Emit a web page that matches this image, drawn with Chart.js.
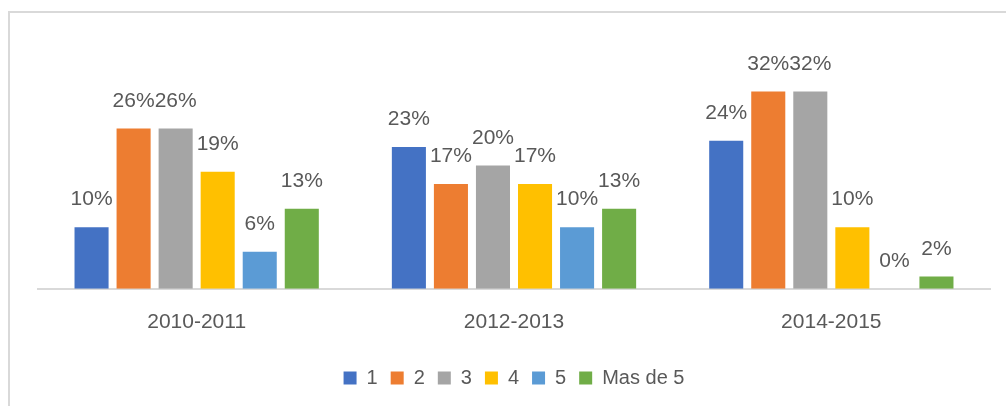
<!DOCTYPE html>
<html>
<head>
<meta charset="utf-8">
<script src="https://cdn.jsdelivr.net/npm/chart.js@4"></script>
<style>
  html, body { margin: 0; padding: 0; background: #fff; }
  #marco { position: absolute; left: 8px; top: 11px; width: 1010px; height: 410px; border: 2px solid #d9d9d9; box-sizing: border-box; }
  #wrap { position: absolute; left: 0; top: 0; width: 1006px; height: 406px; }
</style>
</head>
<body>
<div id="marco"></div>
<div id="wrap"><canvas id="chart" width="1006" height="406"></canvas></div>
<script>
const periodos = ['2010-2011', '2012-2013', '2014-2015'];
const series = ['1', '2', '3', '4', '5', 'Mas de 5'];
const valores1 = [10, 23, 24];
const valores2 = [26, 17, 32];
const valores3 = [26, 20, 32];
const valores4 = [19, 17, 10];
const valores5 = [6, 10, 0];
const valoresMas5 = [13, 13, 2];
const colores = ['#4472c4', '#ed7d31', '#a5a5a5', '#ffc000', '#5b9bd5', '#70ad47'];

const todos = [valores1, valores2, valores3, valores4, valores5, valoresMas5];
const textoGris = '#595959';

// etiquetas encima de cada barra
const etiquetas = {
    id: 'etiquetas',
    afterDatasetsDraw(chart) {
        const ctx = chart.ctx;
        ctx.save();
        ctx.font = '21px "Liberation Sans", Arial, sans-serif';
        ctx.fillStyle = textoGris;
        ctx.textAlign = 'center';
        ctx.textBaseline = 'bottom';
        chart.data.datasets.forEach((ds, i) => {
            chart.getDatasetMeta(i).data.forEach((bar, j) => {
                ctx.fillText(ds.data[j] + '%', bar.x, bar.y - 17);
            });
        });
        ctx.restore();
    }
};

new Chart(document.getElementById('chart').getContext('2d'), {
    type: 'bar',
    data: {
        labels: periodos,
        datasets: series.map((nombre, i) => ({
            label: nombre,
            data: todos[i],
            backgroundColor: colores[i],
            categoryPercentage: 0.795,
            barPercentage: 0.81
        }))
    },
    options: {
        responsive: false,
        animation: false,
        layout: { padding: { left: 38, right: 16, top: 73, bottom: 8 } },
        plugins: {
            tooltip: { enabled: false },
            legend: {
                position: 'bottom',
                labels: {
                    boxWidth: 13,
                    boxHeight: 13,
                    padding: 13,
                    color: textoGris,
                    font: { size: 20, family: '"Liberation Sans", Arial, sans-serif' }
                }
            }
        },
        scales: {
            x: {
                grid: { display: false },
                border: { color: '#d9d9d9', width: 2 },
                ticks: {
                    color: textoGris,
                    padding: 13,
                    font: { size: 21, family: '"Liberation Sans", Arial, sans-serif' }
                },
                afterFit(scale) { scale.height += 7; }
            },
            y: {
                display: false,
                min: 0,
                max: 35
            }
        }
    },
    plugins: [etiquetas]
});
</script>
</body>
</html>
